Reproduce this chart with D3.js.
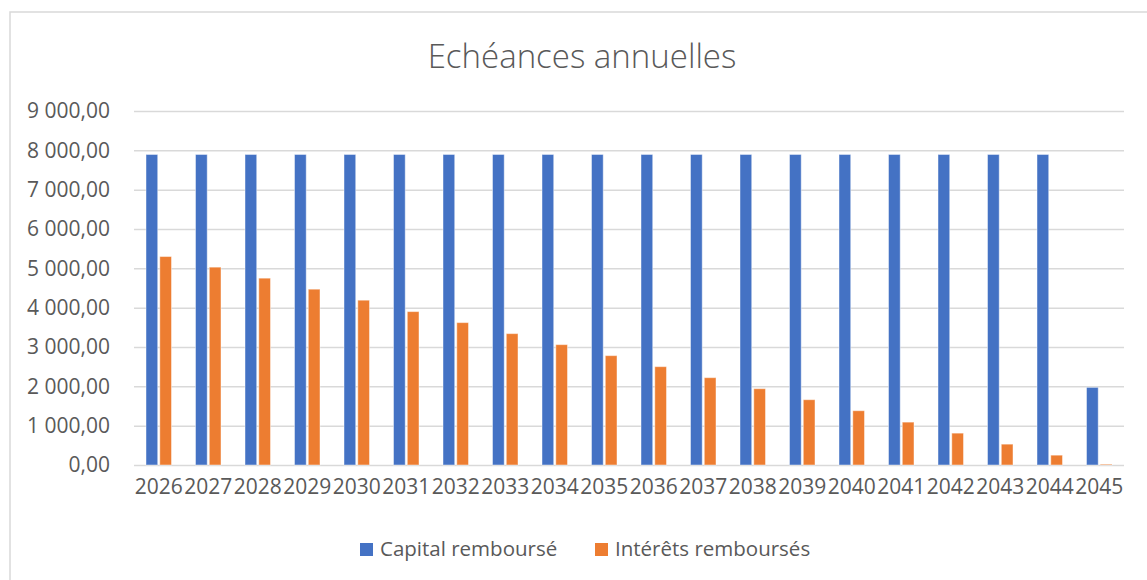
<!DOCTYPE html>
<html>
<head>
<meta charset="utf-8">
<script src="https://cdn.jsdelivr.net/npm/d3@7"></script>
<style>
  body { margin: 0; background: #fff; }
  text { font-family: "Open Sans", "Noto Sans", sans-serif; fill: #595959; }
</style>
</head>
<body>
<div id="chart"></div>
<script>
let width = 1147;
let height = 580;

// data
let years = ['2026', '2027', '2028', '2029', '2030', '2031', '2032', '2033', '2034', '2035',
	'2036', '2037', '2038', '2039', '2040', '2041', '2042', '2043', '2044', '2045'];
let capital = [7894.74, 7894.74, 7894.74, 7894.74, 7894.74, 7894.74, 7894.74, 7894.74, 7894.74, 7894.74,
	7894.74, 7894.74, 7894.74, 7894.74, 7894.74, 7894.74, 7894.74, 7894.74, 7894.74, 1973.68];
let interets = [5300, 5030, 4750, 4470, 4190, 3900, 3620, 3340, 3060, 2780,
	2500, 2220, 1940, 1660, 1380, 1090, 810, 530, 250, 20];
let seriesNames = ['Capital remboursé', 'Intérêts remboursés'];
let seriesColors = ['#4472C4', '#ED7D31'];
let yTicks = [0, 1000, 2000, 3000, 4000, 5000, 6000, 7000, 8000, 9000];

let rows = years.map((y, i) => ({year: y, values: [capital[i], interets[i]]}));

let fr = d3.formatLocale({decimal: ',', thousands: ' ', grouping: [3], currency: ['', ' €']});
let fmt = fr.format(',.2f');

let svg = d3.select('#chart')
		.append('svg')
		.attr('width', width)
		.attr('height', height);

// chart frame (only top/left edges visible in the picture)
svg.append('rect')
		.attr('x', 10)
		.attr('y', 12)
		.attr('width', width + 20)
		.attr('height', height + 20)
		.attr('fill', 'none')
		.attr('stroke', '#d9d9d9')
		.attr('stroke-width', 1.5);

let xScale = d3.scaleBand()
		.domain(years)
		.range([134, 1124]);

let innerScale = d3.scaleBand()
		.domain([0, 1])
		.range([12, 37.5])
		.paddingInner(0.15);

let yScale = d3.scaleLinear()
		.domain([0, 9000])
		.range([465, 111]);

// title
svg.append('text')
		.attr('x', 582)
		.attr('y', 68)
		.attr('text-anchor', 'middle')
		.style('font-size', '33px')
		.style('font-weight', 300)
		.text('Echéances annuelles');

// gridlines + y labels
let yAxis = d3.axisLeft(yScale)
		.tickValues(yTicks)
		.tickFormat(fmt)
		.tickSize(-(1124 - 134))
		.tickPadding(24);

let gy = svg.append('g')
		.attr('transform', 'translate(134,0)')
		.call(yAxis);
gy.select('.domain').remove();
gy.selectAll('.tick line')
		.attr('stroke', '#d9d9d9')
		.attr('stroke-width', 1.5);
gy.selectAll('.tick text')
		.style('font-size', '21px')
		.attr('fill', '#595959');

// bars
let groups = svg.append('g')
		.selectAll('g')
		.data(rows)
		.enter()
		.append('g')
		.attr('transform', d => `translate(${xScale(d.year)},0)`);

groups.selectAll('rect')
		.data(d => d.values)
		.enter()
		.append('rect')
		.attr('x', (v, i) => innerScale(i))
		.attr('y', v => yScale(v))
		.attr('width', innerScale.bandwidth())
		.attr('height', v => yScale(0) - yScale(v))
		.attr('fill', (v, i) => seriesColors[i])
		.attr('stroke', 'rgba(255,255,255,0.45)')
		.attr('stroke-width', 1);

// x labels
let xAxis = d3.axisBottom(xScale)
		.tickSize(0)
		.tickPadding(14);

let gx = svg.append('g')
		.attr('transform', 'translate(0,465)')
		.call(xAxis);
gx.select('.domain').remove();
gx.selectAll('.tick text')
		.style('font-size', '21px')
		.attr('fill', '#595959');

// legend
let legendX = [360, 595];
let legend = svg.append('g')
		.selectAll('g')
		.data(seriesNames)
		.enter()
		.append('g')
		.attr('transform', (d, i) => `translate(${legendX[i]},543)`);

legend.append('rect')
		.attr('width', 13)
		.attr('height', 13)
		.attr('fill', (d, i) => seriesColors[i]);

legend.append('text')
		.attr('x', 20)
		.attr('y', 13)
		.style('font-size', '20.5px')
		.text(d => d);
</script>
</body>
</html>
